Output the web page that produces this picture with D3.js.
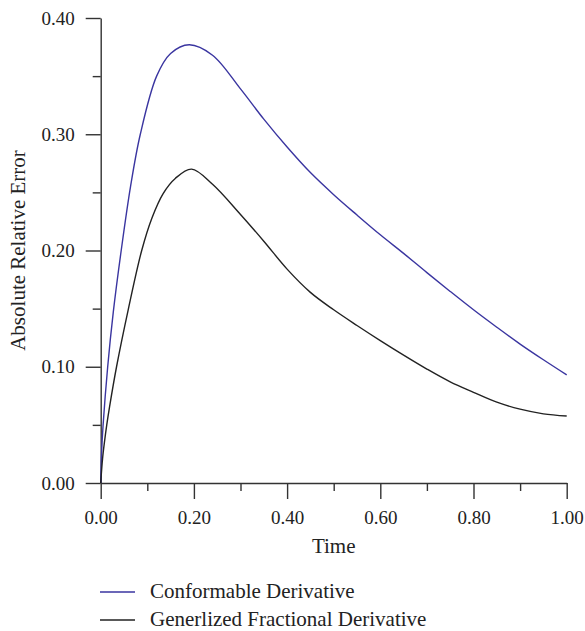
<!DOCTYPE html>
<html><head><meta charset="utf-8">
<script src="https://cdn.jsdelivr.net/npm/d3@7/dist/d3.min.js"></script>
<style>body{margin:0;background:#fff}svg{display:block}</style>
</head><body><svg id="c" width="585" height="631"></svg>
<script>
// Data
const conformableT = [0, 0.002, 0.005, 0.015, 0.027, 0.044, 0.064, 0.085, 0.12, 0.15, 0.19, 0.24, 0.30, 0.35, 0.40, 0.45, 0.50, 0.55, 0.60, 0.65, 0.70, 0.75, 0.80, 0.85, 0.90, 0.95, 1.0];
const conformableV = [0, 0.027, 0.049, 0.10, 0.147, 0.20, 0.255, 0.30, 0.35, 0.3695, 0.377, 0.368, 0.339, 0.313, 0.289, 0.267, 0.248, 0.2305, 0.2135, 0.1975, 0.181, 0.1648, 0.149, 0.134, 0.1195, 0.106, 0.093];
const generalizedT = [0, 0.004, 0.008, 0.013, 0.019, 0.034, 0.059, 0.088, 0.11, 0.134, 0.16, 0.195, 0.24, 0.30, 0.35, 0.40, 0.45, 0.50, 0.55, 0.60, 0.65, 0.70, 0.75, 0.80, 0.85, 0.90, 0.95, 1.0];
const generalizedV = [0, 0.021, 0.035, 0.05, 0.0655, 0.10, 0.149, 0.20, 0.228, 0.249, 0.262, 0.270, 0.257, 0.231, 0.208, 0.184, 0.164, 0.149, 0.1355, 0.1225, 0.110, 0.098, 0.087, 0.078, 0.0695, 0.0635, 0.0595, 0.0576];
const xMajorTicks = [0, 0.2, 0.4, 0.6, 0.8, 1.0];
const xMinorTicks = [0.1, 0.3, 0.5, 0.7, 0.9];
const yMajorTicks = [0, 0.1, 0.2, 0.3, 0.4];
const yMinorTicks = [0.05, 0.15, 0.25, 0.35];
const seriesNames = ["Conformable Derivative", "Generlized Fractional Derivative"];
const seriesColors = ["#3a35a0", "#222222"];

const svg = d3.select("#c");
const font = "'Liberation Serif', 'Times New Roman', serif";
const x = d3.scaleLinear().domain([0, 1]).range([100.7, 566.7]);
const y = d3.scaleLinear().domain([0, 0.4]).range([483, 18]);
const axisColor = "#333";

function styleAxis(g) {
  g.select(".domain").attr("stroke", axisColor).attr("stroke-width", 1.4);
  g.selectAll(".tick line").attr("stroke", axisColor).attr("stroke-width", 1.4);
  g.selectAll("text").attr("fill", "#222").style("font-family", font).style("font-size", "19px");
}

// x axis
const gx = svg.append("g").attr("transform", `translate(0,${y(0)})`)
  .call(d3.axisBottom(x).tickValues(xMajorTicks).tickSize(16).tickSizeOuter(0).tickFormat(d3.format(".2f")));
styleAxis(gx);
gx.selectAll("text").attr("dy", null).attr("y", 41);
const gxm = svg.append("g").attr("transform", `translate(0,${y(0)})`)
  .call(d3.axisBottom(x).tickValues(xMinorTicks).tickSize(8).tickSizeOuter(0).tickFormat(""));
styleAxis(gxm);
gxm.select(".domain").remove();

// y axis
const gy = svg.append("g").attr("transform", `translate(${x(0)},0)`)
  .call(d3.axisLeft(y).tickValues(yMajorTicks).tickSize(15).tickSizeOuter(0).tickPadding(11).tickFormat(d3.format(".2f")));
styleAxis(gy);
const gym = svg.append("g").attr("transform", `translate(${x(0)},0)`)
  .call(d3.axisLeft(y).tickValues(yMinorTicks).tickSize(8).tickSizeOuter(0).tickFormat(""));
styleAxis(gym);
gym.select(".domain").remove();

// titles
svg.append("text").attr("x", (x(0) + x(1)) / 2).attr("y", 553).attr("text-anchor", "middle")
  .style("font-family", font).style("font-size", "21px").attr("fill", "#222").text("Time");
svg.append("text").attr("transform", `translate(25,${(y(0) + y(0.4)) / 2}) rotate(-90)`).attr("text-anchor", "middle")
  .style("font-family", font).style("font-size", "21px").attr("fill", "#222").text("Absolute Relative Error");

// lines
const line = d3.line().x(d => x(d[0])).y(d => y(d[1])).curve(d3.curveCatmullRom.alpha(0.5));
const series = [
  d3.zip(conformableT, conformableV),
  d3.zip(generalizedT, generalizedV)
];
series.forEach((s, i) => {
  svg.append("path").datum(s).attr("fill", "none").attr("stroke", seriesColors[i])
    .attr("stroke-width", 1.4).attr("d", line);
});

// legend
seriesNames.forEach((name, i) => {
  const ly = 592 + i * 28;
  svg.append("line").attr("x1", 100).attr("x2", 135).attr("y1", ly).attr("y2", ly)
    .attr("stroke", seriesColors[i]).attr("stroke-width", 1.4);
  svg.append("text").attr("x", 150).attr("y", ly + 6)
    .style("font-family", font).style("font-size", "21px").attr("fill", "#222").text(name);
});
</script></body></html>
